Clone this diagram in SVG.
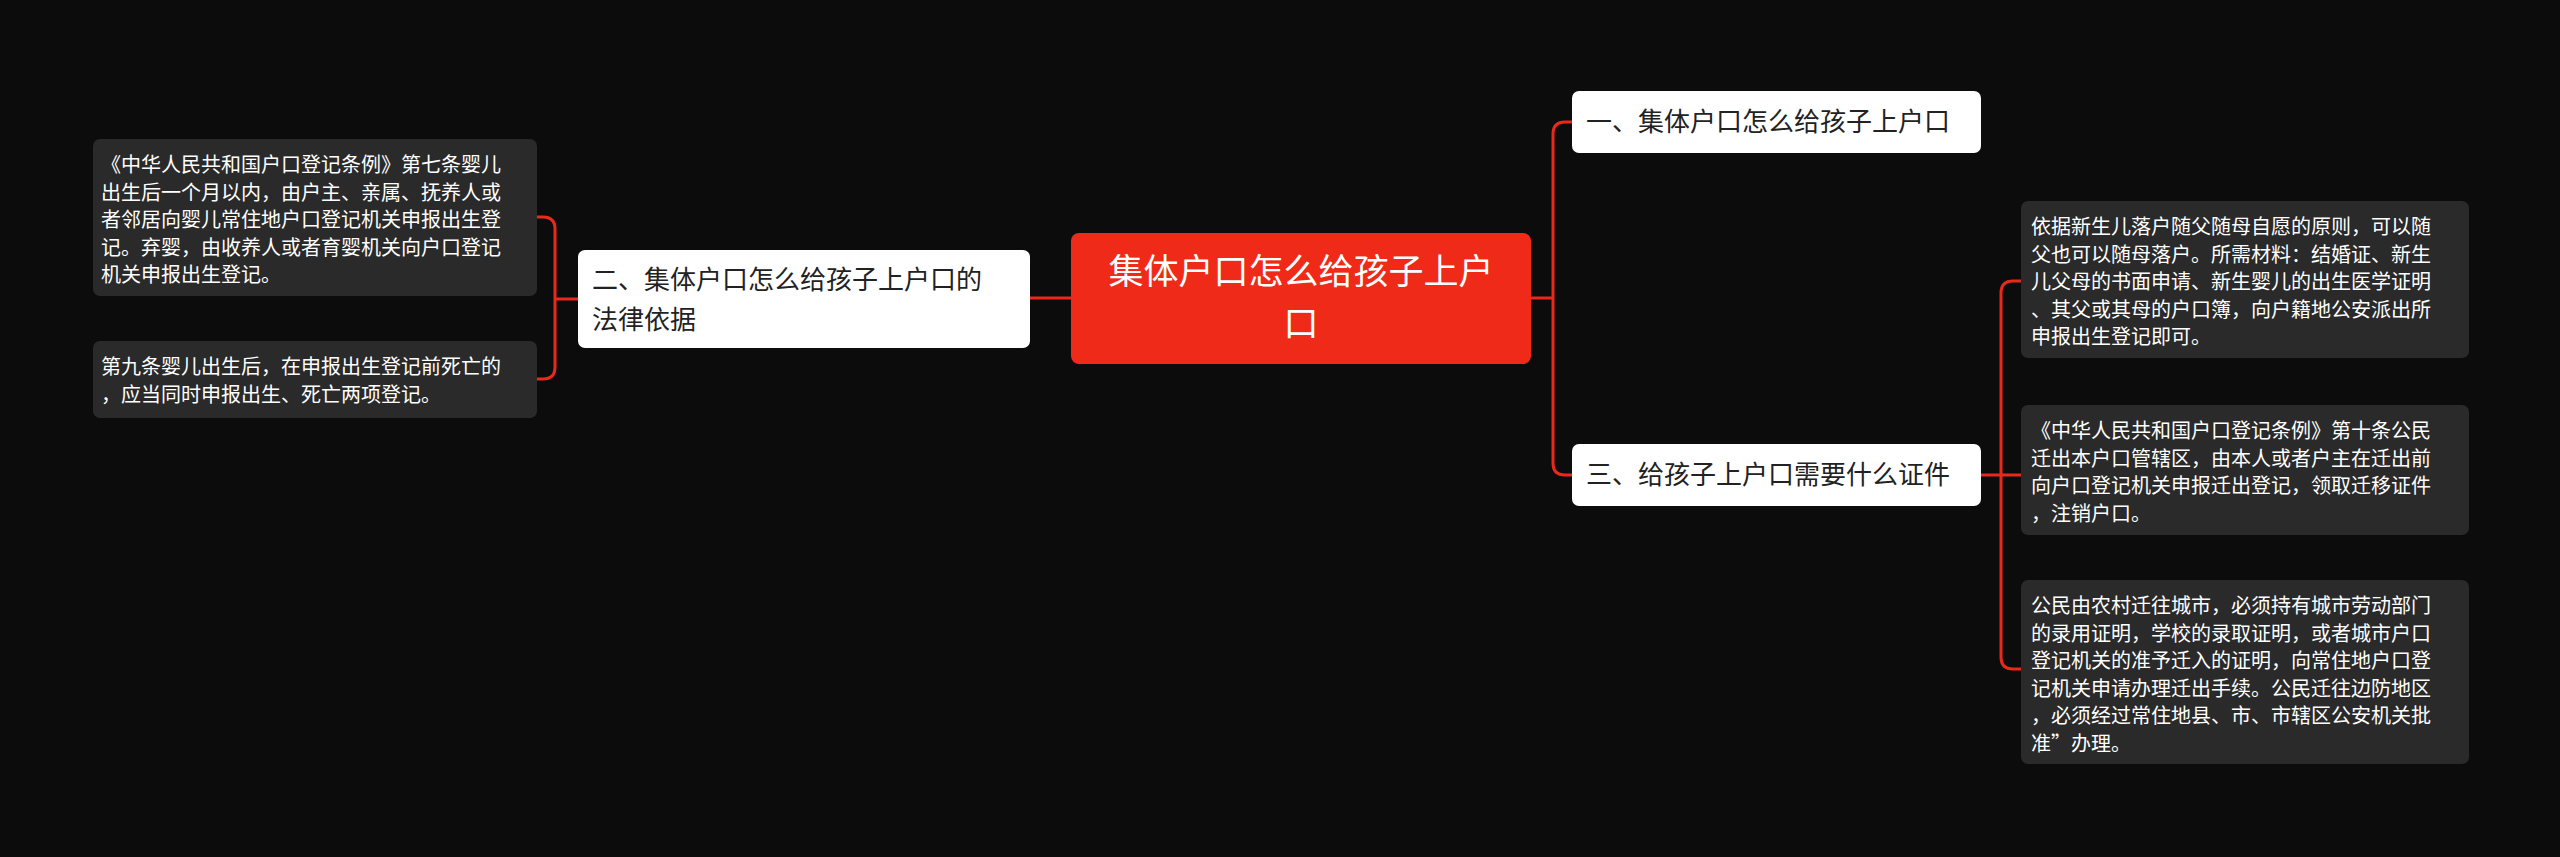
<svg xmlns="http://www.w3.org/2000/svg" width="2560" height="857" viewBox="0 0 2560 857">
<style>
text{font-family:"Noto Sans CJK SC","Noto Sans",sans-serif}
.leaf rect{fill:#2a2a2a}
.leaf text{fill:#fff;font-size:20px}
.sub rect{fill:#fff}
.sub text{fill:#222;font-size:26px}
.c{fill:none;stroke:#e8291c;stroke-width:3}
</style>
<rect width="2560" height="857" fill="#0c0c0c"/>
<g id="connectors">
<path class="c" d="M1071 298H1030"/>
<path class="c" d="M578 299H555M555 299V229Q555 217 543 217H537M555 299V367Q555 379 543 379H537"/>
<path class="c" d="M1531 298H1553M1553 298V134Q1553 122 1565 122H1572M1553 298V463Q1553 475 1565 475H1572"/>
<path class="c" d="M1981 475H2001M2001 475V293Q2001 281 2013 281H2021M2001 475H2021M2001 475V657Q2001 669 2013 669H2021"/>
</g>
<g id="root"><rect x="1071" y="233" width="460" height="131" rx="8" fill="#f02a18"/>
<text x="1301" y="284" font-size="35" fill="#fff" text-anchor="middle">集体户口怎么给孩子上户</text>
<text x="1301" y="336" font-size="35" fill="#fff" text-anchor="middle">口</text></g>
<g id="n1" class="sub"><rect x="1572" y="91" width="409" height="62" rx="7"/><text x="1586" y="131">一、集体户口怎么给孩子上户口</text></g>
<g id="n3" class="sub"><rect x="1572" y="444" width="409" height="62" rx="7"/><text x="1586" y="484">三、给孩子上户口需要什么证件</text></g>
<g id="n2" class="sub"><rect x="578" y="250" width="452" height="98" rx="7"/><text x="592" y="289">二、集体户口怎么给孩子上户口的</text><text x="592" y="329">法律依据</text></g>
<g id="l1" class="leaf"><rect x="93" y="139" width="444" height="157" rx="7"/>
<text x="101" y="172">《中华人民共和国户口登记条例》第七条婴儿</text>
<text x="101" y="199.5">出生后一个月以内，由户主、亲属、抚养人或</text>
<text x="101" y="227">者邻居向婴儿常住地户口登记机关申报出生登</text>
<text x="101" y="254.5">记。弃婴，由收养人或者育婴机关向户口登记</text>
<text x="101" y="282">机关申报出生登记。</text></g>
<g id="l2" class="leaf"><rect x="93" y="341" width="444" height="77" rx="7"/>
<text x="101" y="374">第九条婴儿出生后，在申报出生登记前死亡的</text>
<text x="101" y="401.5">，应当同时申报出生、死亡两项登记。</text></g>
<g id="r1" class="leaf"><rect x="2021" y="201" width="448" height="157" rx="7"/>
<text x="2031" y="234">依据新生儿落户随父随母自愿的原则，可以随</text>
<text x="2031" y="261.5">父也可以随母落户。所需材料：结婚证、新生</text>
<text x="2031" y="289">儿父母的书面申请、新生婴儿的出生医学证明</text>
<text x="2031" y="316.5">、其父或其母的户口簿，向户籍地公安派出所</text>
<text x="2031" y="344">申报出生登记即可。</text></g>
<g id="r2" class="leaf"><rect x="2021" y="405" width="448" height="130" rx="7"/>
<text x="2031" y="438">《中华人民共和国户口登记条例》第十条公民</text>
<text x="2031" y="465.5">迁出本户口管辖区，由本人或者户主在迁出前</text>
<text x="2031" y="493">向户口登记机关申报迁出登记，领取迁移证件</text>
<text x="2031" y="520.5">，注销户口。</text></g>
<g id="r3" class="leaf"><rect x="2021" y="580" width="448" height="184" rx="7"/>
<text x="2031" y="613">公民由农村迁往城市，必须持有城市劳动部门</text>
<text x="2031" y="640.5">的录用证明，学校的录取证明，或者城市户口</text>
<text x="2031" y="668">登记机关的准予迁入的证明，向常住地户口登</text>
<text x="2031" y="695.5">记机关申请办理迁出手续。公民迁往边防地区</text>
<text x="2031" y="723">，必须经过常住地县、市、市辖区公安机关批</text>
<text x="2031" y="750.5">准”办理。</text></g>
</svg>
